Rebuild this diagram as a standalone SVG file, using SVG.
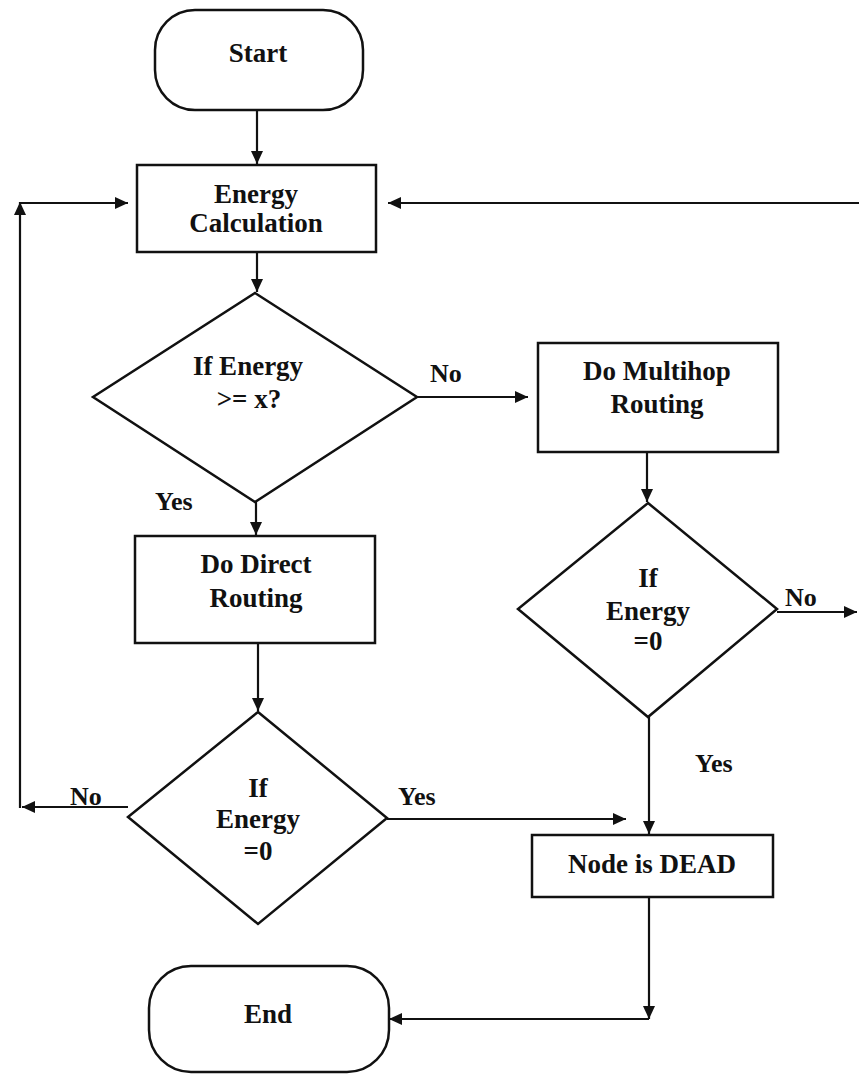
<svg xmlns="http://www.w3.org/2000/svg" width="859" height="1074" viewBox="0 0 859 1074">
<style>
.shape{fill:#fff;stroke:#111;stroke-width:2.5}
.line{fill:none;stroke:#111;stroke-width:2.2}
.t{font-family:"Liberation Serif","Times New Roman",serif;font-size:27px;font-weight:bold;fill:#111;text-anchor:middle}
.lbl{font-family:"Liberation Serif","Times New Roman",serif;font-size:26px;font-weight:bold;fill:#111}
</style>
<defs>
<marker id="arr" markerUnits="userSpaceOnUse" markerWidth="14" markerHeight="12" refX="13" refY="6" orient="auto">
<path d="M0,0 L13,6 L0,12 z" fill="#111"/>
</marker>
</defs>
<rect width="859" height="1074" fill="#fff"/>
<g id="connectors">
<line class="line" x1="257" y1="110" x2="257" y2="164" marker-end="url(#arr)"/>
<line class="line" x1="257" y1="252" x2="257" y2="292" marker-end="url(#arr)"/>
<line class="line" x1="256" y1="502" x2="256" y2="535" marker-end="url(#arr)"/>
<line class="line" x1="258" y1="643" x2="258" y2="711" marker-end="url(#arr)"/>
<line class="line" x1="417" y1="397" x2="528" y2="397" marker-end="url(#arr)"/>
<line class="line" x1="647" y1="452" x2="647" y2="502" marker-end="url(#arr)"/>
<line class="line" x1="777" y1="612" x2="857" y2="612" marker-end="url(#arr)"/>
<line class="line" x1="649" y1="717" x2="649" y2="834" marker-end="url(#arr)"/>
<line class="line" x1="387" y1="819" x2="626" y2="819" marker-end="url(#arr)"/>
<line class="line" x1="128" y1="807" x2="22" y2="807" marker-end="url(#arr)"/>
<line class="line" x1="20" y1="808" x2="20" y2="202" marker-end="url(#arr)"/>
<line class="line" x1="19" y1="203" x2="128" y2="203" marker-end="url(#arr)"/>
<line class="line" x1="859" y1="203" x2="388" y2="203" marker-end="url(#arr)"/>
<line class="line" x1="649" y1="897" x2="649" y2="1019" marker-end="url(#arr)"/>
<line class="line" x1="649" y1="1019" x2="389" y2="1019" marker-end="url(#arr)"/>
<text class="lbl" x="430" y="382">No</text>
<text class="lbl" x="155" y="510">Yes</text>
<text class="lbl" x="785" y="606">No</text>
<text class="lbl" x="695" y="772">Yes</text>
<text class="lbl" x="70" y="805">No</text>
<text class="lbl" x="398" y="805">Yes</text>
</g>
<g id="start">
<rect class="shape" x="155" y="10" width="208" height="100" rx="40" ry="40"/>
<text class="t" x="258" y="62">Start</text>
</g>
<g id="energy-calc">
<rect class="shape" x="137" y="165" width="239" height="87"/>
<text class="t" x="256" y="203">Energy</text>
<text class="t" x="256" y="232">Calculation</text>
</g>
<g id="decision1">
<polygon class="shape" points="255,293 417,397 255,502 93,397"/>
<text class="t" x="248" y="375">If Energy</text>
<text class="t" x="249" y="408">&gt;= x?</text>
</g>
<g id="multihop">
<rect class="shape" x="538" y="343" width="240" height="109"/>
<text class="t" x="657" y="380">Do Multihop</text>
<text class="t" x="657" y="413">Routing</text>
</g>
<g id="direct">
<rect class="shape" x="135" y="536" width="240" height="107"/>
<text class="t" x="256" y="573">Do Direct</text>
<text class="t" x="256" y="607">Routing</text>
</g>
<g id="decision2">
<polygon class="shape" points="648,503 777,609 648,717 518,609"/>
<text class="t" x="648" y="587">If</text>
<text class="t" x="648" y="620">Energy</text>
<text class="t" x="648" y="650">=0</text>
</g>
<g id="decision3">
<polygon class="shape" points="258,712 387,818 258,924 128,817"/>
<text class="t" x="258" y="797">If</text>
<text class="t" x="258" y="828">Energy</text>
<text class="t" x="258" y="860">=0</text>
</g>
<g id="dead">
<rect class="shape" x="532" y="835" width="241" height="62"/>
<text class="t" x="652" y="873">Node is DEAD</text>
</g>
<g id="end">
<rect class="shape" x="149" y="966" width="240" height="106" rx="42" ry="42"/>
<text class="t" x="268" y="1023">End</text>
</g>
</svg>
